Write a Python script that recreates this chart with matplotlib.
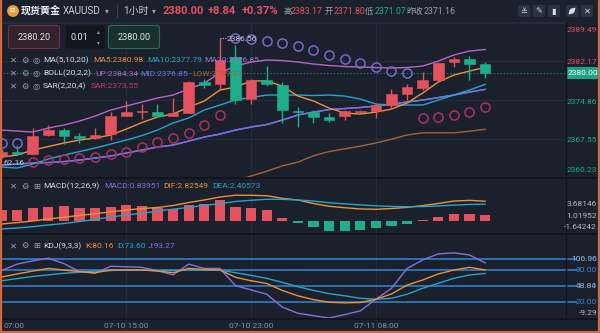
import matplotlib
matplotlib.use("Agg")
import matplotlib.pyplot as plt
import numpy as np
from matplotlib.patches import Rectangle, FancyBboxPatch, Circle

FONT = ["Roboto", "Noto Sans CJK SC", "DejaVu Sans"]
plt.rcParams["font.family"] = FONT

# ---------------------------------------------------------------- colours
BG = "#1b202d"
GRID = "#262c3b"
SEP = "#0f1219"
UP_C = "#e4525f"
DN_C = "#1fae8c"
TXT = "#d6d9e0"
MUTED = "#9aa0ad"
C_MA5 = "#e8923a"
C_MA10 = "#27a4c8"
C_MA20 = "#9377d8"
C_UP = "#b864c6"
C_MID = "#6f72e8"
C_LOW = "#a5623a"
C_SAR_DN = "#b0305c"
C_SAR_UP = "#7a68c8"
C_J = "#8a6fd8"
C_LEVEL = "#2f86d8"
BORDER = "#d2693c"

# ---------------------------------------------------------------- data
time_labels = ["07:00", "07-10 15:00", "07-10 23:00", "07-11 08:00"]
time_label_idx = [0, 8, 16, 24]

opens = [2364.40, 2365.15, 2364.72, 2368.30, 2369.20, 2368.10, 2367.70, 2368.50,
         2371.90, 2372.60, 2372.60, 2371.90, 2372.50, 2378.20, 2377.80, 2383.00,
         2375.00, 2378.60, 2377.70, 2372.80, 2372.60, 2371.70, 2371.90, 2372.60,
         2372.80, 2374.00, 2376.00, 2377.20, 2378.60, 2381.90, 2382.50, 2381.60]
closes = [2365.15, 2364.80, 2368.10, 2369.17, 2368.20, 2367.80, 2368.30, 2371.90,
          2372.60, 2372.80, 2371.80, 2372.50, 2378.30, 2377.70, 2382.40, 2374.90,
          2378.60, 2377.80, 2373.00, 2372.60, 2371.70, 2371.20, 2372.80, 2372.80,
          2373.90, 2376.00, 2377.30, 2378.60, 2381.80, 2382.50, 2381.70, 2380.00]
highs = [2365.60, 2366.40, 2369.60, 2370.20, 2369.66, 2368.60, 2369.70, 2372.60,
         2374.70, 2374.10, 2374.10, 2375.30, 2378.50, 2378.74, 2386.56, 2385.20,
         2378.80, 2381.30, 2378.30, 2373.50, 2373.00, 2372.40, 2372.90, 2372.90,
         2374.30, 2376.90, 2377.90, 2380.20, 2382.00, 2383.00, 2383.10, 2381.90]
lows = [2364.00, 2364.50, 2364.60, 2368.20, 2366.60, 2366.80, 2367.50, 2367.40,
        2371.80, 2371.30, 2371.70, 2371.80, 2372.40, 2377.05, 2376.70, 2374.10,
        2374.10, 2377.50, 2370.50, 2369.80, 2370.60, 2370.70, 2371.10, 2372.20,
        2371.50, 2373.20, 2374.90, 2376.70, 2378.50, 2381.10, 2378.60, 2379.00]

ma5 = [2364.16, 2364.53, 2365.47, 2366.13, 2366.79, 2367.35, 2367.72, 2368.29,
       2369.41, 2370.63, 2371.66, 2372.23, 2373.54, 2374.67, 2376.73, 2377.29,
       2378.42, 2378.42, 2377.48, 2375.60, 2374.67, 2373.35, 2372.41, 2372.23,
       2372.60, 2373.16, 2374.29, 2376.17, 2378.23, 2379.54, 2380.29, 2380.98]
ma10 = [2362.28, 2362.10, 2362.85, 2363.78, 2364.53, 2365.19, 2365.85, 2366.60,
        2367.35, 2368.19, 2369.22, 2370.54, 2371.48, 2372.98, 2373.92, 2374.85,
        2375.32, 2375.79, 2375.79, 2375.79, 2375.70, 2375.79, 2375.60, 2375.04,
        2374.10, 2373.92, 2373.92, 2373.92, 2374.85, 2375.79, 2376.73, 2377.79]
boll_mid = [2362.66, 2362.85, 2363.03, 2363.13, 2363.31, 2363.60, 2363.97, 2364.35,
            2364.91, 2365.47, 2366.04, 2366.41, 2367.16, 2367.91, 2368.47, 2369.22,
            2369.79, 2370.26, 2371.10, 2372.04, 2372.60, 2373.07, 2373.26, 2373.45,
            2373.73, 2374.10, 2374.48, 2374.85, 2375.32, 2375.79, 2376.35, 2376.85]
boll_up = [2369.22, 2369.04, 2368.85, 2369.60, 2370.16, 2370.91, 2371.85, 2372.98,
           2373.73, 2374.48, 2375.23, 2375.79, 2376.92, 2378.04, 2379.92, 2381.23,
           2381.98, 2382.36, 2382.26, 2381.98, 2381.61, 2381.33, 2381.14, 2381.04,
           2380.95, 2380.86, 2380.95, 2381.23, 2382.17, 2383.30, 2384.05, 2384.34]
boll_low = [np.nan] * 14 + [2358.60, 2359.70,
            2360.60, 2361.50, 2362.50, 2363.20, 2364.40, 2365.20, 2365.70, 2366.20,
            2366.80, 2367.50, 2368.30, 2368.70, 2368.70, 2368.70, 2369.00, 2369.37]
sar = [2366.79, 2366.79, 2363.28, 2363.60, 2363.79, 2363.91, 2364.10, 2364.67,
       2365.15, 2366.09, 2367.03, 2367.67, 2368.60, 2370.16, 2372.04, 2386.56,
       2386.30, 2385.95, 2385.60, 2385.00, 2384.20, 2383.30, 2382.49, 2381.80,
       2381.04, 2380.39, 2379.92, 2371.48, 2371.66, 2372.04, 2372.60, 2373.55]

macd_hist = [1.53, 1.53, 1.90, 2.04, 2.10, 1.90, 1.81, 2.04, 2.24, 2.14, 1.90, 1.67,
             2.24, 2.39, 2.96, 2.04, 1.81, 1.53, 0.39, -0.24, -0.86, -1.36, -1.43,
             -1.29, -1.07, -0.71, -0.36, 0.10, 0.64, 1.04, 1.04, 0.83951]
dif = [-0.43, -0.23, 0.00, 0.29, 0.54, 0.79, 1.03, 1.31, 1.57, 1.77, 1.93, 2.21,
       2.64, 3.00, 3.43, 3.68, 3.67, 3.61, 3.24, 3.00, 2.50, 2.10, 1.90, 1.72,
       1.67, 1.78, 1.95, 2.20, 2.50, 2.85, 2.95, 2.82549]
dea = [-1.14, -1.00, -0.81, -0.57, -0.36, -0.07, 0.21, 0.57, 0.86, 1.10, 1.43, 1.69,
       1.93, 2.24, 2.47, 2.79, 2.96, 3.10, 3.10, 3.00, 2.85, 2.60, 2.45, 2.30,
       2.17, 2.08, 2.04, 2.06, 2.15, 2.27, 2.36, 2.40573]

k_line = [67, 72.7, 78, 83, 80, 77, 75, 80, 80, 80, 78, 75, 83, 81, 80, 66.5,
          60, 55, 42, 32, 25, 20, 19, 19.5, 25.6, 35.4, 52, 61.5, 72.7, 80, 85, 80.16]
d_line = [60, 64, 68, 71, 74, 76, 78, 79, 80, 80, 79, 79, 80, 80, 80, 75,
          70, 64.6, 57, 49, 42, 36, 32, 27.4, 25.6, 27.4, 34.9, 46, 55.3, 64.6, 70.8, 73.6]
j_line = [79, 91, 97, 102, 92, 77, 74, 87, 86, 85, 79, 71, 91, 83, 83, 51,
          43, 35, 11, -0.5, -5, -9.29, -3, 4, 25.6, 46, 83, 98.7, 110, 112, 108, 93.27]
kdj_levels = [100, 80, 50, 20]

price_ticks = [2389.49, 2382.17, 2374.86, 2367.55, 2360.23]
macd_ticks = ["3.68146", "1.01952", "-1.64242"]
last_price = 2380.00

# ---------------------------------------------------------------- layout helpers
W, H = 600, 333
fig = plt.figure(figsize=(W / 100, H / 100), dpi=100)
fig.patch.set_facecolor(BG)

X0, STEP, PLOT_R = 1.5, 15.6, 565
XLIM = (-X0 / STEP, (PLOT_R - X0) / STEP)
n = len(opens)
idx = np.arange(n)


def px_axes(x0, y0, x1, y1, z=1):
    ax = fig.add_axes([x0 / W, 1 - y1 / H, (x1 - x0) / W, (y1 - y0) / H], zorder=z)
    ax.set_facecolor("none")
    for s in ax.spines.values():
        s.set_visible(False)
    ax.set_xticks([])
    ax.set_yticks([])
    return ax


def vgrid(ax):
    for t in time_label_idx[1:]:
        ax.axvline(t, color=GRID, lw=0.8, zorder=0)


# ---------------------------------------------------------------- main price panel
ax = px_axes(0, 22, PLOT_R, 178)
ax.set_xlim(*XLIM)
ax.set_ylim(price_ticks[-1], price_ticks[0])
for p in price_ticks[:4]:
    ax.axhline(p, color=GRID, lw=0.8, zorder=0)
vgrid(ax)

ax.plot(idx, boll_low, color=C_LOW, lw=1.0, zorder=2)
ax.plot(idx, boll_up, color=C_UP, lw=1.0, zorder=2)
ax.plot(idx, boll_mid, color=C_MA20, lw=1.0, zorder=2)
ax.plot(idx, boll_mid, color=C_MID, lw=1.0, zorder=2)
ax.plot(idx, ma10, color=C_MA10, lw=1.0, zorder=2)
ax.plot(idx, ma5, color=C_MA5, lw=1.0, zorder=2)

body_w = 0.68
for i in range(n):
    o, c, h, l = opens[i], closes[i], highs[i], lows[i]
    col = UP_C if c >= o else DN_C
    ax.vlines(i, l, h, color=col, lw=1.0, zorder=3)
    bot, top = min(o, c), max(o, c)
    hgt = max(top - bot, 0.2)
    ax.add_patch(Rectangle((i - body_w / 2, bot), body_w, hgt, facecolor=col,
                           edgecolor=col, lw=0.4, zorder=4))

sar_arr = np.array(sar)
above = sar_arr > np.array(highs)
ax.plot(idx[above], sar_arr[above], "o", ms=6.6, mfc="none", mec=C_SAR_UP, mew=1.1, zorder=5)
ax.plot(idx[~above], sar_arr[~above], "o", ms=6.6, mfc="none", mec=C_SAR_DN, mew=1.1, zorder=5)

ax.axhline(last_price, color="#1f9274", lw=0.8, ls=(0, (1, 2)), zorder=1)

# highest high marker
hi_i = int(np.argmax(highs))
ax.plot([hi_i, hi_i + 0.38], [highs[hi_i]] * 2, color="#b8bcc8", lw=0.8, ls=(0, (1, 1.2)), zorder=6)
ax.text(hi_i + 0.42, highs[hi_i] - 0.35, f"{highs[hi_i]:.2f}", color="#c4c8d2",
        fontsize=6, va="center", ha="left", zorder=6)

# ---------------------------------------------------------------- MACD panel
axm = px_axes(0, 178, PLOT_R, 233)
axm.set_xlim(*XLIM)
axm.set_ylim(-1.714, 6.14)
vgrid(axm)
hist = np.array(macd_hist)
axm.bar(idx, hist, width=0.66, color=np.where(hist >= 0, UP_C, DN_C), zorder=2)
axm.plot(idx, dif, color=C_MA5, lw=1.0, zorder=3)
axm.plot(idx, dea, color=C_MA10, lw=1.0, zorder=3)

# ---------------------------------------------------------------- KDJ panel
axk = px_axes(0, 235, 577, 318)
axk.set_xlim(XLIM[0], XLIM[0] + 577 / STEP)
axk.set_ylim(-9.29, 145.2)
vgrid(axk)
for lv in kdj_levels:
    axk.axhline(lv, color=C_LEVEL, lw=1.1, zorder=1)
axk.plot(idx, j_line, color=C_J, lw=1.0, zorder=3)
axk.plot(idx, d_line, color=C_MA10, lw=1.0, zorder=3)
axk.plot(idx, k_line, color=C_MA5, lw=1.0, zorder=3)

# time axis grid continuation
axt = px_axes(0, 318, PLOT_R, 333)
axt.set_xlim(*XLIM)
axt.set_ylim(0, 1)
vgrid(axt)

# ---------------------------------------------------------------- overlay (texts, frames)
ov = px_axes(0, 0, W, H, z=10)
ov.set_xlim(0, W)
ov.set_ylim(H, 0)

# separators
for y in (177.5, 233.5, 318.5):
    ov.plot([0, W], [y, y], color=SEP, lw=1.2)
ov.plot([565.5, 565.5], [22, 318], color=SEP, lw=1.0)
ov.plot([0, 565], [22.5, 22.5], color=GRID, lw=0.8)


def t(x, y, s, color=TXT, size=6, ha="left", weight="normal", **kw):
    ov.text(x, y, s, color=color, fontsize=size, ha=ha, va="center",
            fontweight=weight, **kw)


# header row
ov.add_patch(Circle((13, 11), 5.2, color="#e6a23c"))
t(13, 11.2, "≡", color="white", size=5, ha="center", weight="bold")
t(21, 11, "现货黄金", color="#eceef3", size=7.2, weight="bold")
t(63, 11, "XAUUSD", color="#c8ccd6", size=7.2)
t(107, 11, "▾", color=MUTED, size=5.5, ha="center")
ov.plot([117, 117], [5, 17], color="#3a4050", lw=0.8)
t(123, 11, "1小时", color="#c8ccd6", size=7.2)
t(154, 11, "▾", color=MUTED, size=5.5, ha="center")
t(163, 11, "2380.00", color=UP_C, size=8, weight="bold")
t(208, 11, "+8.84", color=UP_C, size=8, weight="bold")
t(242, 11, "+0.37%", color=UP_C, size=8, weight="bold")
t(283, 11, "高", color=MUTED, size=6)
t(291, 11, "2383.17", color=UP_C, size=6.3)
t(325, 11, "开", color=MUTED, size=6)
t(334, 11, "2371.80", color=UP_C, size=6.3)
t(365, 11, "低", color=MUTED, size=6)
t(375, 11, "2371.07", color=DN_C, size=6.3)
t(406, 11, "昨收", color=MUTED, size=6)
t(424, 11, "2371.16", color=MUTED, size=6.3)

# toolbar buttons
icon_x = [524, 539, 554, 572, 587]
for cx in icon_x:
    ov.add_patch(FancyBboxPatch((cx - 6, 5), 12, 12, boxstyle="round,pad=0,rounding_size=2",
                                facecolor="#2b3242", edgecolor="none"))
for cx, glyph in zip([524, 539, 554, 587], ["≚", "✎", "▮", "✕"]):
    ov.text(cx, 11.3, glyph, color="#d8dbe3", fontsize=6, ha="center", va="center",
            family=["DejaVu Sans"])
# expand button: diagonal double arrow
ov.annotate("", xy=(575.5, 7.5), xytext=(568.5, 14.5),
            arrowprops=dict(arrowstyle="<|-|>,head_length=0.25,head_width=0.15",
                            color="#d8dbe3", lw=0.8, shrinkA=0, shrinkB=0))

# order entry row
ov.add_patch(FancyBboxPatch((8.5, 25.5), 51, 23, boxstyle="round,pad=0,rounding_size=2.5",
                            facecolor="#33222c", edgecolor="#6e3442", lw=0.8))
t(34, 37.5, "2380.20", size=6.6, ha="center", color="#e2e4ea")
ov.add_patch(FancyBboxPatch((66, 25.5), 39, 23, boxstyle="round,pad=0,rounding_size=2",
                            facecolor="#12161f", edgecolor="none"))
t(79, 37.5, "0.01", size=6.6, ha="center", color="#e2e4ea")
t(98, 32, "▴", size=4, ha="center", color=MUTED)
t(98, 43, "▾", size=4, ha="center", color=MUTED)
ov.add_patch(FancyBboxPatch((108.5, 25.5), 51, 23, boxstyle="round,pad=0,rounding_size=2.5",
                            facecolor="#173030", edgecolor="#2a6b5c", lw=0.8))
t(134, 37.5, "2380.00", size=6.6, ha="center", color="#e2e4ea")


def legend_row(y, third, items):
    t(13.5, y, "✕", color=MUTED, size=6, ha="center", family=["DejaVu Sans"])
    t(24.5, y, "⚙", color=MUTED, size=6, ha="center", family=["DejaVu Sans"])
    t(36.5, y, third, color=MUTED, size=6, ha="center", family=["DejaVu Sans"])
    for x, s, c in items:
        t(x, y, s, color=c, size=6)


legend_row(60, "◎", [(43, "MA(5,10,20)", TXT), (93, "MA5:2380.98", C_MA5),
                     (147, "MA10:2377.79", C_MA10), (204, "MA20:2376.85", C_MA20)])
legend_row(73.5, "◎", [(43, "BOLL(20,2,2)", TXT), (95, "UP:2384.34", C_UP),
                       (140, "MID:2376.85", C_MID), (192, "LOW:2369.37", C_LOW)])
legend_row(86.5, "◎", [(43, "SAR(2,20,4)", TXT), (91, "SAR:2373.55", "#c93a6a")])
legend_row(186.5, "⊞", [(43, "MACD(12,26,9)", TXT), (104, "MACD:0.83951", C_J),
                        (163, "DIF:2.82549", C_MA5), (212, "DEA:2.40573", C_MA10)])
legend_row(245.7, "⊞", [(43, "KDJ(9,3,3)", TXT), (85, "K:80.16", C_MA5),
                        (117, "D:73.60", C_MA10), (148, "J:93.27", C_J)])

# low marker at the left edge
t(3, 163, "62.16", color="#c4c8d2", size=6, ha="left")

# price axis labels
for p, y in zip(price_ticks, [30, 62, 101.5, 140, 170]):
    col = UP_C if p > last_price else DN_C
    t(597, y, f"{p:.2f}", color=col, size=6, ha="right")
ov.add_patch(Rectangle((566.5, 66.5), 32, 12.5, facecolor="#1ea384", edgecolor="none"))
t(582.5, 72.8, f"{last_price:.2f}", color="white", size=6, ha="center")

# MACD axis labels
for s, y in zip(macd_ticks, [204, 215.7, 227]):
    t(597, y, s, color="#b4b8c4", size=6, ha="right")

# KDJ axis labels
t(597, 259, "100.00", color=C_LEVEL, size=6, ha="right")
t(597, 259, "106.96", color="#b4b8c4", size=6, ha="right", alpha=0.7)
t(597, 270, "80.00", color=C_LEVEL, size=6, ha="right")
t(597, 286, "50.00", color=C_LEVEL, size=6, ha="right")
t(597, 286, "48.84", color="#b4b8c4", size=6, ha="right", alpha=0.7)
t(597, 302, "20.00", color=C_LEVEL, size=6, ha="right")
t(597, 313, "-9.29", color="#b4b8c4", size=6, ha="right")

# time axis
for lab, i in zip(time_labels, time_label_idx):
    if i == 0:
        t(3, 326, lab, color="#8a90a0", size=6, ha="left")
    else:
        t(X0 + STEP * i, 326, lab, color="#8a90a0", size=6, ha="center")

# focus frame
ov.plot([0.8, 0.8], [0, H], color=BORDER, lw=1.6)
ov.plot([W - 0.8, W - 0.8], [0, H], color=BORDER, lw=1.6)
ov.plot([0, W], [H - 0.8, H - 0.8], color=BORDER, lw=1.6)

fig.savefig("out.png", dpi=100, facecolor=BG)
